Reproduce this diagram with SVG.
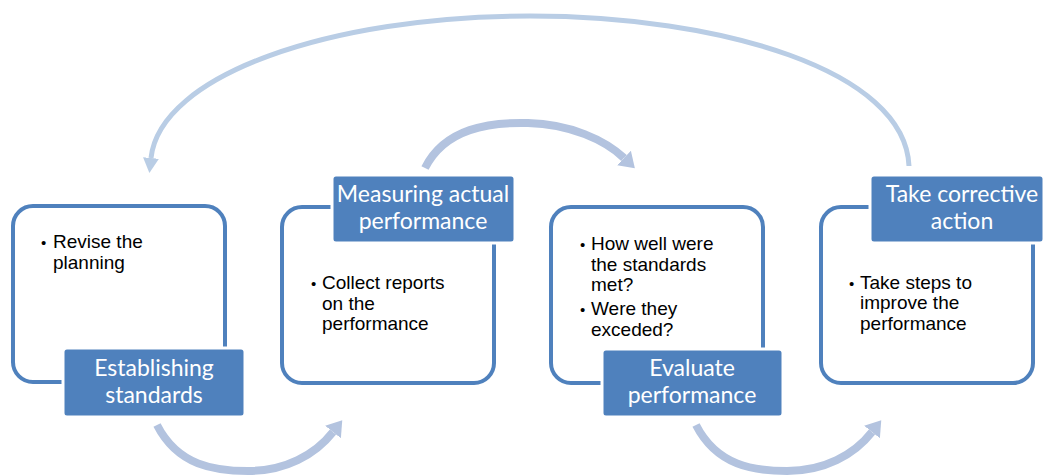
<svg xmlns="http://www.w3.org/2000/svg" width="1044" height="475" viewBox="0 0 1044 475">
  <defs>
    <style>
      .frame { fill: #ffffff; stroke: #4f81bd; stroke-width: 4; }
      .label { fill: #4f81bd; stroke: #ffffff; stroke-width: 3; }
      .title { font-family: Lato, "Open Sans", sans-serif; font-size: 23px; fill: #ffffff; text-anchor: middle; }
      .body { font-family: "Liberation Sans", Arial, sans-serif; font-size: 19px; fill: #000000; }
      .dot { font-family: "Liberation Sans", Arial, sans-serif; font-size: 15px; fill: #000000; }
      .loop { fill: none; stroke: #b9cde5; stroke-width: 5; }
      .step { fill: none; stroke: #b3c3df; stroke-width: 8; }
    </style>
    <marker id="headThin" markerUnits="userSpaceOnUse" markerWidth="16" markerHeight="18" refX="0" refY="9" orient="auto">
      <path d="M0,1 L15,9 L0,17 Z" fill="#b9cde5"/>
    </marker>
    <marker id="headThick" markerUnits="userSpaceOnUse" markerWidth="16" markerHeight="22" refX="0" refY="11" orient="auto">
      <path d="M0,1 L15,11 L0,21 Z" fill="#b3c3df"/>
    </marker>
  </defs>

  <rect width="1044" height="475" fill="#ffffff"/>

  <!-- connectors -->
  <g id="connectors">
    <path class="loop" d="M 909 166 C 905 70 720 16 530 16 C 330 16 160 75 151 158" marker-end="url(#headThin)"/>
    <path class="step" d="M 425 168 C 445 128 490 122 528 123 C 570 124 605 140 624 158" marker-end="url(#headThick)"/>
    <path class="step" d="M 157 425 C 178 466 215 471 248 471 C 285 471 315 455 333 432" marker-end="url(#headThick)"/>
    <path class="step" d="M 696 425 C 717 466 754 471 787 471 C 824 471 854 455 872 432" marker-end="url(#headThick)"/>
  </g>

  <!-- Establishing standards -->
  <g id="establishing">
    <rect class="frame" x="13" y="206" width="212" height="176" rx="20"/>
    <text class="dot" x="41" y="248">•</text>
    <text class="body"><tspan x="53" y="248">Revise the</tspan><tspan x="53" y="269">planning</tspan></text>
    <rect class="label" x="63" y="348" width="182" height="69" rx="4"/>
    <text class="title"><tspan x="154" y="376">Establishing</tspan><tspan x="154" y="403">standards</tspan></text>
  </g>

  <!-- Measuring actual performance -->
  <g id="measuring">
    <rect class="frame" x="282" y="207" width="212" height="176" rx="20"/>
    <text class="dot" x="311" y="289">•</text>
    <text class="body"><tspan x="322" y="289">Collect reports</tspan><tspan x="322" y="310">on the</tspan><tspan x="322" y="330">performance</tspan></text>
    <rect class="label" x="332" y="175" width="183" height="68" rx="4"/>
    <text class="title"><tspan x="423" y="202">Measuring actual</tspan><tspan x="423" y="229">performance</tspan></text>
  </g>

  <!-- Evaluate performance -->
  <g id="evaluate">
    <rect class="frame" x="551" y="207" width="212" height="176" rx="20"/>
    <text class="dot" x="580" y="250">•</text>
    <text class="dot" x="580" y="315">•</text>
    <text class="body"><tspan x="591" y="250">How well were</tspan><tspan x="591" y="271">the standards</tspan><tspan x="591" y="291">met?</tspan><tspan x="591" y="315">Were they</tspan><tspan x="591" y="336">exceded?</tspan></text>
    <rect class="label" x="602" y="349" width="181" height="68" rx="4"/>
    <text class="title"><tspan x="692" y="376">Evaluate</tspan><tspan x="692" y="403">performance</tspan></text>
  </g>

  <!-- Take corrective action -->
  <g id="corrective">
    <rect class="frame" x="821" y="207" width="212" height="176" rx="20"/>
    <text class="dot" x="849" y="289">•</text>
    <text class="body"><tspan x="860" y="289">Take steps to</tspan><tspan x="860" y="309">improve the</tspan><tspan x="860" y="330">performance</tspan></text>
    <rect class="label" x="870" y="175" width="174" height="68" rx="4"/>
    <text class="title"><tspan x="962" y="202">Take corrective</tspan><tspan x="962" y="229">action</tspan></text>
  </g>
</svg>
